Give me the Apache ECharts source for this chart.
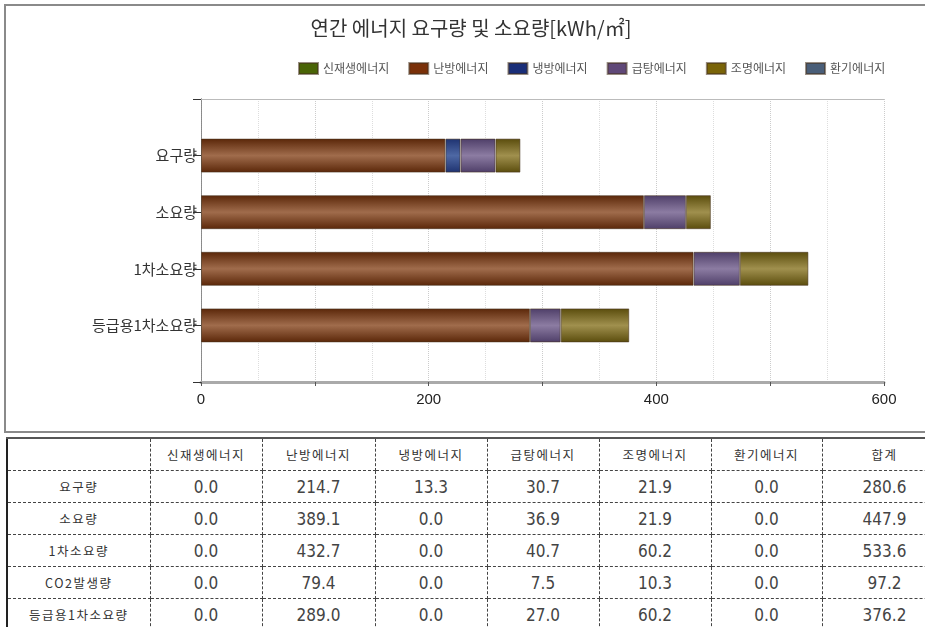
<!DOCTYPE html>
<html>
<head>
<meta charset="utf-8">
<script src="https://cdn.jsdelivr.net/npm/echarts@6/dist/echarts.min.js"></script>
<style>
  html, body { margin: 0; padding: 0; background: #fff; }
  body { width: 925px; height: 627px; position: relative; overflow: hidden; font-family: "Noto Sans CJK KR", sans-serif; }
  #box { position: absolute; left: 4px; top: 4px; width: 940px; height: 425px; border: 2px solid #8a8a8a; }
  #chart { position: absolute; left: 0; top: 0; width: 925px; height: 433px; }
  #tbl { position: absolute; left: 6px; top: 437px; border-collapse: collapse; table-layout: fixed; width: 940px; }
  #tbl td { height: 31px; padding: 0; text-align: center; border: 1px dashed #444; color: #444;
            font-family: "Liberation Sans Narrow", "DejaVu Sans Condensed", sans-serif; font-size: 17px; }
  #tbl td.lb { font-family: "Noto Sans CJK KR", sans-serif; font-size: 12.5px; letter-spacing: 1.5px; color: #333; }
  #tbl tr:first-child td { border-top: 2px solid #555; }
  #tbl td:first-child { border-left: 2px solid #222; }
</style>
</head>
<body>
<div id="box"></div>
<div id="chart"></div>
<table id="tbl"></table>
<script>
// 에너지 항목
const energyTypes = ['신재생에너지', '난방에너지', '냉방에너지', '급탕에너지', '조명에너지', '환기에너지']
// 차트 항목 (위에서 아래로)
const categories = ['요구량', '소요량', '1차소요량', '등급용1차소요량']

// 항목별 값 [요구량, 소요량, 1차소요량, 등급용1차소요량]
const renewable = [0.0, 0.0, 0.0, 0.0]
const heating = [214.7, 389.1, 432.7, 289.0]
const cooling = [13.3, 0.0, 0.0, 0.0]
const hotWater = [30.7, 36.9, 40.7, 27.0]
const lighting = [21.9, 21.9, 60.2, 60.2]
const ventilation = [0.0, 0.0, 0.0, 0.0]

// 표에만 있는 CO2 행
const co2Label = 'CO2발생량'
const co2 = [0.0, 79.4, 0.0, 7.5, 10.3, 0.0]

const totalLabel = '합계'
const xTicks = [0, 200, 400, 600]

const colors = [
  { flat: '#4a6406', dark: '#3c5408', light: '#7c9644' },
  { flat: '#7a3008', dark: '#5a2608', light: '#a06c4c' },
  { flat: '#1a2e78', dark: '#1e3270', light: '#4e68a4' },
  { flat: '#604878', dark: '#4e3e68', light: '#8c7ca2' },
  { flat: '#7a6408', dark: '#5a4c0c', light: '#a0904e' },
  { flat: '#4a5e78', dark: '#3e5068', light: '#7a8ca4' }
]

const seriesValues = [renewable, heating, cooling, hotWater, lighting, ventilation]

function grad(c) {
  return new echarts.graphic.LinearGradient(0, 0, 0, 1, [
    { offset: 0, color: c.dark },
    { offset: 0.5, color: c.light },
    { offset: 1, color: c.dark }
  ])
}

const axisCats = [''].concat(categories, [''])

const chart = echarts.init(document.getElementById('chart'))
chart.setOption({
  animation: false,
  textStyle: { fontFamily: '"Noto Sans CJK KR", sans-serif' },
  title: {
    text: '연간 에너지 요구량 및 소요량[kWh/㎡]',
    left: 466, textAlign: 'center', top: 13,
    textStyle: { fontSize: 20, fontWeight: 'normal', color: '#333' }
  },
  legend: {
    left: 293, top: 57,
    icon: 'rect', itemWidth: 19, itemHeight: 11, itemGap: 19,
    textStyle: { fontSize: 12, color: '#555' },
    data: energyTypes.map((n, i) => ({ name: n, itemStyle: { color: colors[i].flat } }))
  },
  grid: { left: 201, right: 41, top: 99, height: 283 },
  xAxis: [{
    type: 'value', min: 0, max: 600, interval: 100, position: 'bottom',
    axisLine: { show: true, lineStyle: { color: '#aaa', width: 3 } },
    axisTick: { show: true, length: 4, lineStyle: { color: '#555' } },
    axisLabel: {
      fontSize: 15, color: '#222', margin: 10,
      fontFamily: 'Liberation Sans, sans-serif',
      formatter: v => xTicks.includes(v) ? String(v) : ''
    },
    splitLine: { show: true, lineStyle: { color: '#ccc', type: 'dotted' } },
    minorTick: { show: false, splitNumber: 2 },
    minorSplitLine: { show: true, lineStyle: { color: '#ddd', type: 'dotted' } }
  }, {
    type: 'value', min: 0, max: 600, position: 'top',
    axisLine: { show: true, lineStyle: { color: '#bbb', width: 1 } },
    axisTick: { show: false }, axisLabel: { show: false }, splitLine: { show: false }
  }],
  yAxis: [{
    type: 'category', data: axisCats, inverse: true, boundaryGap: false,
    axisLine: { show: true, lineStyle: { color: '#666', type: 'dotted' } },
    axisTick: { show: true, length: 8, lineStyle: { color: '#333' } },
    axisLabel: { fontSize: 15, color: '#333', margin: 4 }
  }, {
    type: 'category', data: axisCats, inverse: true, boundaryGap: false, position: 'right',
    axisLine: { show: true, lineStyle: { color: '#888', type: 'dotted' } },
    axisTick: { show: false }, axisLabel: { show: false }
  }],
  series: energyTypes.map((name, i) => ({
    name, type: 'bar', stack: 'total', barWidth: 34,
    itemStyle: { color: grad(colors[i]), borderColor: 'rgba(70,50,30,0.55)', borderWidth: 1 },
    data: [null].concat(seriesValues[i].map(v => v === 0 ? null : v), [null])
  }))
})

// 표
const rows = categories.map((c, r) => ({ label: c, vals: seriesValues.map(s => s[r]) }))
rows.splice(3, 0, { label: co2Label, vals: co2 })
const tbl = document.getElementById('tbl')
const widths = [143, 112, 113, 112, 112, 112, 111, 125]
let html = '<colgroup>' + widths.map(w => `<col style="width:${w}px">`).join('') + '</colgroup>'
html += '<tr><td class="lb"></td>' + energyTypes.map(n => `<td class="lb">${n}</td>`).join('') +
  `<td class="lb">${totalLabel}</td></tr>`
rows.forEach(r => {
  const sum = r.vals.reduce((a, b) => a + b, 0)
  html += `<tr><td class="lb">${r.label}</td>` + r.vals.map(v => `<td>${v.toFixed(1)}</td>`).join('') +
    `<td>${sum.toFixed(1)}</td></tr>`
})
tbl.innerHTML = html
</script>
</body>
</html>
